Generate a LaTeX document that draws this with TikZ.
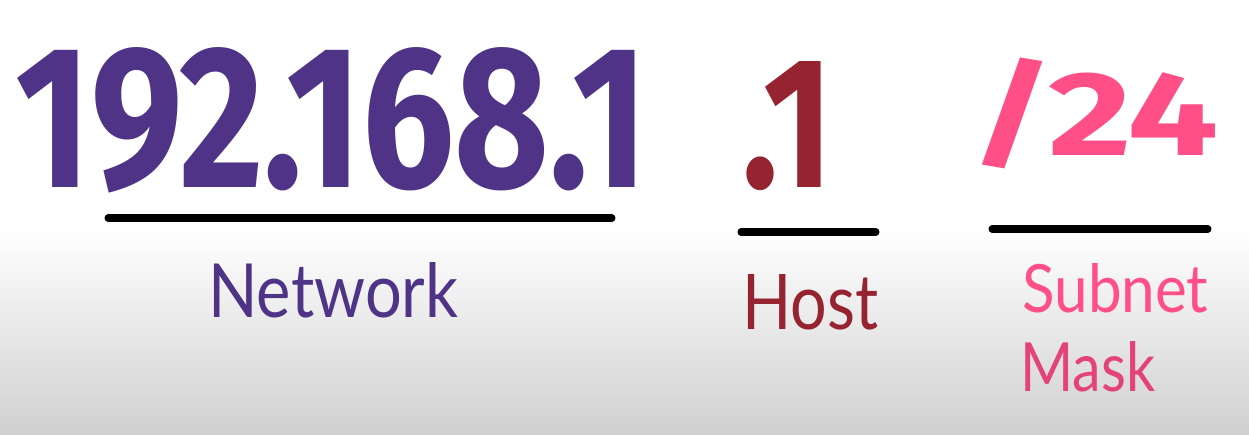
\documentclass[tikz,border=0pt]{standalone}
\usepackage{fontspec}
\newfontfamily\digitfont{Fira Sans}
\newfontfamily\labelfont{Lato}
\usepackage{xcolor}
\definecolor{NetPurple}{HTML}{4E3386}
\definecolor{HostRed}{HTML}{952330}
\definecolor{MaskPink}{HTML}{FF4F86}
\definecolor{MaskDeep}{HTML}{E3437A}
\definecolor{FloorGray}{HTML}{D0D0D0}
\usepackage{tikz}
\usetikzlibrary{positioning,calc}

\begin{document}
\begin{tikzpicture}[x=0.02cm,y=0.02cm,
 big/.style={inner sep=0pt,font=\digitfont\bfseries},
 word/.style={inner sep=0pt,anchor=base west,font=\labelfont},
 bar/.style={line width=4pt,line cap=round,black}]
\useasboundingbox (0,0) rectangle (1249,435);
\fill[white] (0,205) rectangle (1249,435);
\shade[top color=white,bottom color=FloorGray] (0,0) rectangle (1249,205);
\node[big,anchor=base west,text=NetPurple] (net) at (15,247) {\resizebox{12.66cm}{2.8cm}{192.168.1}};
\node[big,anchor=base west,text=HostRed] (host) at (742,247) {\resizebox{1.82cm}{2.52cm}{.1}};
\node[big,anchor=north west,text=MaskPink] (mask) at (970,377) {\resizebox*{4.96cm}{2.22cm}{/24}};
\coordinate (netA) at (108,217); \coordinate (netB) at (612,217);
\coordinate (hostA) at (741,203); \coordinate (hostB) at (876,203);
\coordinate (maskA) at (992,206); \coordinate (maskB) at (1208,206);
\draw[bar] (netA)--(netB);
\draw[bar] (hostA)--(hostB);
\draw[bar] (maskA)--(maskB);
\node[word,text=NetPurple] (netlbl) at (208,117) {\resizebox{5cm}{1.1cm}{Network}};
\node[word,text=HostRed] (hostlbl) at (742,105) {\resizebox{2.72cm}{1.1cm}{Host}};
\node[word,text=MaskPink] (sublbl) at (1022,122) {\resizebox{3.72cm}{0.98cm}{Subnet}};
\node[word,text=MaskDeep] (masklbl) at (1020,43) {\resizebox{2.7cm}{1cm}{Mask}};
\end{tikzpicture}
\end{document}
